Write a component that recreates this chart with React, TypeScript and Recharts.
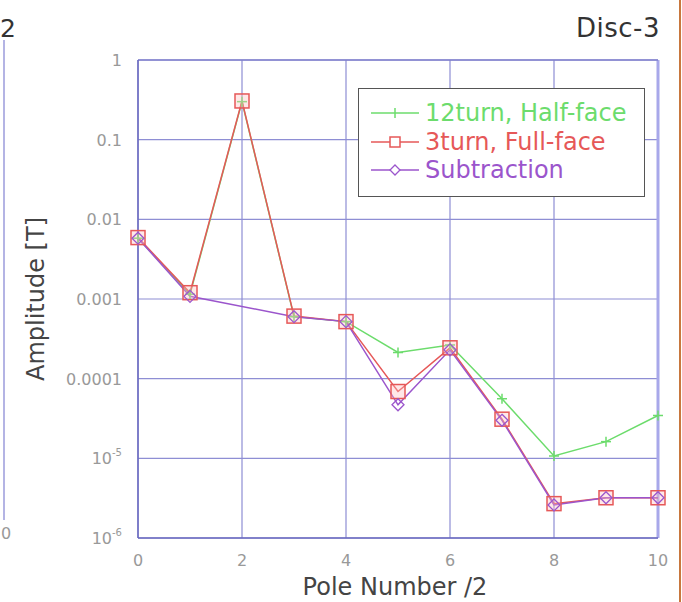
import React from "react";
import { LineChart, Line, XAxis, YAxis, CartesianGrid, ReferenceLine } from "recharts";

// Pole number / 2
const poles = [0, 1, 2, 3, 4, 5, 6, 7, 8, 9, 10];
// amplitudes [T]
const halfFace12 = [0.0058, 0.00115, 0.3, 0.0006, 0.00052, 0.000213, 0.000265, 5.6e-5, 1.07e-5, 1.62e-5, 3.45e-5];
const fullFace3 = [0.0059, 0.0012, 0.306, 0.00061, 0.00052, 6.9e-5, 0.000244, 3.1e-5, 2.7e-6, 3.2e-6, 3.2e-6];
const subtraction = [0.0058, 0.00108, null, 0.0006, 0.00052, 4.7e-5, 0.00023, 3.0e-5, 2.6e-6, 3.2e-6, 3.2e-6];

const xTicks = [0, 2, 4, 6, 8, 10];
const yTicks = [1e-6, 1e-5, 1e-4, 1e-3, 1e-2, 0.1, 1];
const yTickLabels: Record<string, [string, string?]> = {
  "0.000001": ["10", "-6"],
  "0.00001": ["10", "-5"],
  "0.0001": ["0.0001"],
  "0.001": ["0.001"],
  "0.01": ["0.01"],
  "0.1": ["0.1"],
  "1": ["1"],
};

const FONT = "'DejaVu Sans', sans-serif";
const GREEN = "#6cdc6c";
const RED = "#e65858";
const PURPLE = "#9b55cc";
const TICK = "#999";

const data = poles.map((p, i) => ({
  pole: p,
  half: halfFace12[i],
  full: fullFace3[i],
  sub: subtraction[i],
}));

const Plus = (props: any) => {
  const { cx, cy, index } = props;
  if (cx == null || cy == null) return <g key={`p-${index}`} />;
  return (
    <g key={`p-${index}`}>
      <line x1={cx} y1={cy - 5} x2={cx} y2={cy + 5} stroke={GREEN} strokeWidth={1.5} />
      <line x1={cx - 5} y1={cy} x2={cx + 5} y2={cy} stroke={GREEN} strokeWidth={1.5} />
    </g>
  );
};

const Square = (props: any) => {
  const { cx, cy, index } = props;
  if (cx == null || cy == null) return <g key={`s-${index}`} />;
  return (
    <rect key={`s-${index}`} x={cx - 7} y={cy - 7} width={14} height={14}
      fill="rgba(255,190,190,0.35)" stroke={RED} strokeWidth={1.5} />
  );
};

const Diamond = (props: any) => {
  const { cx, cy, index } = props;
  if (cx == null || cy == null) return <g key={`d-${index}`} />;
  return (
    <path key={`d-${index}`} d={`M${cx},${cy - 6}L${cx + 6},${cy}L${cx},${cy + 6}L${cx - 6},${cy}Z`}
      fill="none" stroke={PURPLE} strokeWidth={1.3} />
  );
};

const series = [
  { key: "half", name: "12turn, Half-face", color: GREEN, dot: Plus },
  { key: "full", name: "3turn, Full-face", color: RED, dot: Square },
  { key: "sub", name: "Subtraction", color: PURPLE, dot: Diamond },
];

const YTick = (props: any) => {
  const { x, y, payload } = props;
  const lab = yTickLabels[String(payload.value)] || [String(payload.value)];
  return (
    <text x={x} y={y} dy={6} textAnchor="end" fill={TICK} fontSize={16} fontFamily={FONT}>
      {lab[0]}
      {lab[1] && <tspan dy={-8} fontSize={10}>{lab[1]}</tspan>}
    </text>
  );
};

const XTick = (props: any) => {
  const { x, payload } = props;
  return (
    <text x={x} y={566} textAnchor="middle" fill={TICK} fontSize={16} fontFamily={FONT}>
      {payload.value}
    </text>
  );
};

function LegendBox() {
  return (
    <div style={{
      position: "absolute", left: 358, top: 88, width: 287, height: 109,
      border: "1.5px solid #555", background: "#fff", boxSizing: "border-box",
    }}>
      {series.map((s, i) => (
        <div key={s.key} style={{ position: "absolute", left: 10, top: 10 + i * 28.5, height: 28, display: "flex", alignItems: "center" }}>
          <svg width={52} height={28}>
            <line x1={2} y1={14} x2={50} y2={14} stroke={s.color} strokeWidth={1.5} />
            {s.key === "half" && <line x1={26} y1={9} x2={26} y2={19} stroke={s.color} strokeWidth={1.5} />}
            {s.key === "full" && <rect x={21} y={9} width={10} height={10} fill="#fff" stroke={s.color} strokeWidth={1.5} />}
            {s.key === "sub" && <path d="M26,9L31,14L26,19L21,14Z" fill="#fff" stroke={s.color} strokeWidth={1.3} />}
          </svg>
          <span style={{ fontFamily: FONT, fontSize: 24, color: s.color, marginLeft: 4, lineHeight: "28px", whiteSpace: "nowrap" }}>
            {s.name}
          </span>
        </div>
      ))}
    </div>
  );
}

export default function App() {
  return (
    <div style={{ position: "absolute", left: 0, top: 0, width: 682, height: 602, background: "#fff", overflow: "hidden" }}>
      {/* piece of the neighbouring panel */}
      <div style={{ position: "absolute", left: 3, top: 40, width: 2, height: 480, background: "#b4b4e4" }} />
      <div style={{ position: "absolute", left: 1, top: 524, fontFamily: FONT, fontSize: 16, color: TICK }}>0</div>
      <div style={{ position: "absolute", left: 0, top: 14, fontFamily: FONT, fontSize: 25, color: "#333", whiteSpace: "nowrap" }}>2</div>
      <div style={{ position: "absolute", left: 679, top: 0, width: 2, height: 602, background: "#c8773e" }} />

      <div style={{ position: "absolute", right: 22, top: 13, fontFamily: FONT, fontSize: 26, letterSpacing: 0.5, color: "#333", whiteSpace: "nowrap" }}>Disc-3</div>

      <LineChart width={682} height={602} data={data} margin={{ top: 60, right: 24, bottom: 0, left: 0 }}>
        <CartesianGrid stroke="#8e8ed4" strokeWidth={1.2} />
        <XAxis
          dataKey="pole"
          type="number"
          domain={[0, 10]}
          ticks={xTicks}
          height={64}
          tick={<XTick />}
          tickLine={false}
          axisLine={{ stroke: "#6a6abf", strokeWidth: 1.5 }}
          label={{
            content: (p: any) => (
              <text x={p.viewBox.x + p.viewBox.width / 2 - 3} y={595} textAnchor="middle"
                fill="#444" fontSize={24} fontFamily={FONT}>Pole Number /2</text>
            ),
          }}
        />
        <YAxis
          type="number"
          scale="log"
          domain={[1e-6, 1]}
          ticks={yTicks}
          allowDataOverflow
          width={138}
          tick={<YTick />}
          tickLine={false}
          tickSize={0}
          tickMargin={16}
          axisLine={{ stroke: "#6a6abf", strokeWidth: 1.5 }}
          label={{
            content: () => (
              <text transform="translate(44,299) rotate(-90)" textAnchor="middle"
                fill="#444" fontSize={24} fontFamily={FONT}>Amplitude [T]</text>
            ),
          }}
        />
        <ReferenceLine x={10} stroke="#a8a8ea" strokeWidth={3} />
        <ReferenceLine y={1} stroke="#8080cc" strokeWidth={1.5} />
        {series.map(s => (
          <Line
            key={s.key}
            dataKey={s.key}
            name={s.name}
            type="linear"
            stroke={s.color}
            strokeWidth={1.5}
            dot={s.dot}
            activeDot={false}
            connectNulls
            isAnimationActive={false}
          />
        ))}
      </LineChart>
      <LegendBox />
    </div>
  );
}
